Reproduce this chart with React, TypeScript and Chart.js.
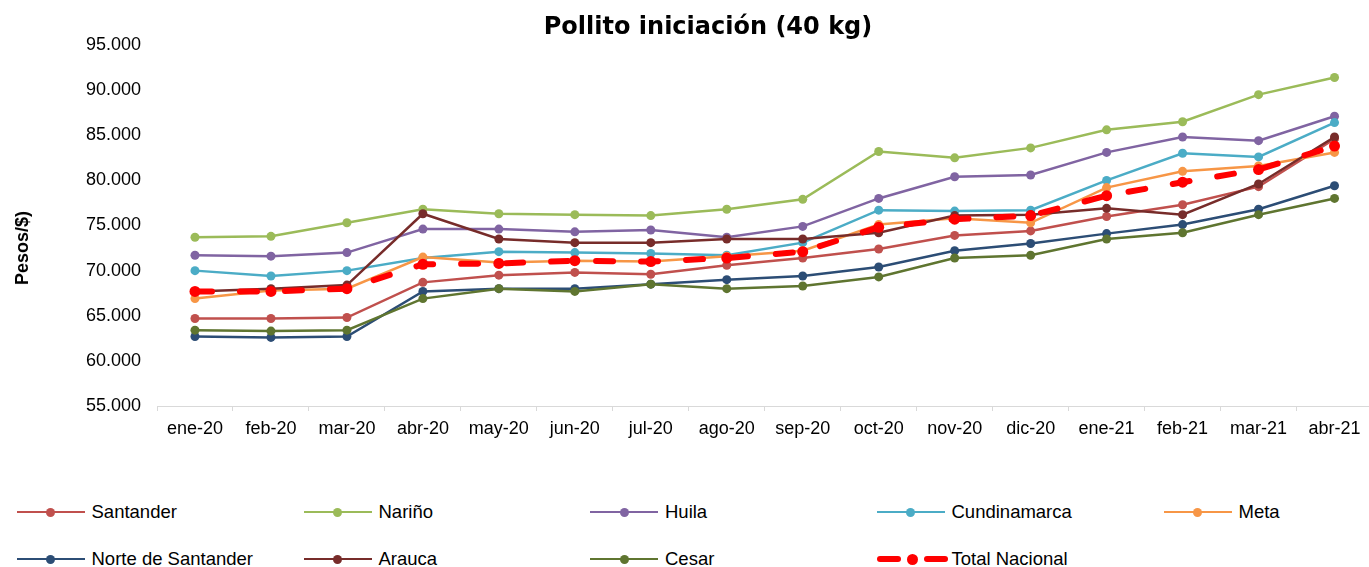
import React, { useEffect, useRef } from "react";
import { Chart, registerables } from "chart.js";

Chart.register(...registerables);

// ---------- data ----------
const categories = [
  "ene-20", "feb-20", "mar-20", "abr-20", "may-20", "jun-20", "jul-20", "ago-20",
  "sep-20", "oct-20", "nov-20", "dic-20", "ene-21", "feb-21", "mar-21", "abr-21",
];

const santander = [64700, 64700, 64800, 68700, 69500, 69800, 69600, 70600, 71400, 72400, 73900, 74400, 76000, 77300, 79300, 84600];
const narino = [73700, 73800, 75300, 76800, 76300, 76200, 76100, 76800, 77900, 83200, 82500, 83600, 85600, 86500, 89500, 91400];
const huila = [71700, 71600, 72000, 74600, 74600, 74300, 74500, 73700, 74900, 78000, 80400, 80600, 83100, 84800, 84400, 87100];
const cundinamarca = [70000, 69400, 70000, 71400, 72100, 72000, 71900, 71700, 73100, 76700, 76600, 76700, 80000, 83000, 82600, 86400];
const meta = [66900, 67800, 68000, 71500, 70900, 71100, 71000, 71600, 72200, 75100, 75800, 75300, 79200, 81000, 81600, 83100];
const norteDeSantander = [62700, 62600, 62700, 67700, 68000, 68000, 68500, 69000, 69400, 70400, 72200, 73000, 74100, 75100, 76800, 79400];
const arauca = [67700, 68000, 68400, 76300, 73500, 73100, 73100, 73500, 73500, 74200, 76100, 76200, 76900, 76200, 79600, 84800];
const cesar = [63400, 63300, 63400, 66900, 68000, 67700, 68500, 68000, 68300, 69300, 71400, 71700, 73500, 74200, 76200, 78000];
const totalNacional = [67700, 67700, 68000, 70700, 70800, 71100, 71000, 71400, 72100, 74800, 75700, 76100, 78300, 79800, 81200, 83800];

const seriesNames = [
  "Santander", "Nariño", "Huila", "Cundinamarca", "Meta",
  "Norte de Santander", "Arauca", "Cesar", "Total Nacional",
];
const seriesValues = [santander, narino, huila, cundinamarca, meta, norteDeSantander, arauca, cesar, totalNacional];

const yMin = 55000;
const yMax = 95000;
const yStep = 5000;

const chartTitle = "Pollito iniciación (40 kg)";
const yAxisTitle = "Pesos/$)";

// ---------- styles ----------
const seriesColors = [
  "#C0504D", "#9BBB59", "#8064A2", "#4BACC6", "#F79646",
  "#2C4D75", "#772C2A", "#5F7530", "#FF0000",
];
const FONT = "'Liberation Sans', Arial, sans-serif";

function fmtThousands(v: number): string {
  const s = Math.round(v).toString();
  return s.replace(/\B(?=(\d{3})+(?!\d))/g, ".");
}

function LegendItem({ name, color, dashed, left, top }: { name: string; color: string; dashed: boolean; left: number; top: number }) {
  return (
    <div style={{ position: "absolute", left, top: top - 12, height: 24, width: 280 }}>
      {dashed ? (
        <>
          <div style={{ position: "absolute", left: 0, top: 9, width: 24, height: 6, borderRadius: 3, background: color }} />
          <div style={{ position: "absolute", left: 30.5, top: 6.5, width: 11, height: 11, borderRadius: "50%", background: color }} />
          <div style={{ position: "absolute", left: 47, top: 9, width: 24, height: 6, borderRadius: 3, background: color }} />
        </>
      ) : (
        <>
          <div style={{ position: "absolute", left: 0, top: 10.75, width: 68, height: 2.5, background: color }} />
          <div style={{ position: "absolute", left: 29.5, top: 7.5, width: 9, height: 9, borderRadius: "50%", background: color }} />
        </>
      )}
      <div style={{ position: "absolute", left: 75, top: 0, lineHeight: "24px", fontSize: 18.5, fontFamily: FONT, color: "#000", whiteSpace: "nowrap" }}>
        {name}
      </div>
    </div>
  );
}

export default function App() {
  const canvasRef = useRef<HTMLCanvasElement | null>(null);

  useEffect(() => {
    const canvas = canvasRef.current;
    if (!canvas) return;
    const n = seriesNames.length;
    const datasets = seriesNames.map((name, i) => {
      const isTotal = i === n - 1;
      return {
        label: name,
        data: seriesValues[i],
        borderColor: seriesColors[i],
        backgroundColor: seriesColors[i],
        pointBackgroundColor: seriesColors[i],
        pointBorderColor: seriesColors[i],
        pointBorderWidth: 0,
        pointRadius: isTotal ? 5.5 : 4.5,
        borderWidth: isTotal ? 6 : 2.5,
        borderDash: isTotal ? [17, 28] : [],
        borderCapStyle: isTotal ? ("round" as const) : ("butt" as const),
        tension: 0,
        fill: false,
        order: isTotal ? 0 : n - i,
      };
    });

    const chart = new Chart(canvas, {
      type: "line",
      data: { labels: categories, datasets },
      options: {
        responsive: false,
        animation: false,
        devicePixelRatio: 1,
        layout: { padding: { top: 45, left: 0, right: 0, bottom: 24 } },
        plugins: {
          legend: { display: false },
          title: { display: false },
          tooltip: { enabled: false },
        },
        scales: {
          x: {
            offset: true,
            grid: {
              display: true,
              offset: true,
              drawOnChartArea: false,
              drawTicks: true,
              tickLength: 5,
              color: "#D9D9D9",
            },
            border: { display: true, color: "#D9D9D9", width: 1 },
            ticks: {
              padding: 7,
              color: "#000",
              font: { family: FONT, size: 18 },
              maxRotation: 0,
              autoSkip: false,
            },
            afterFit: (scale: any) => {
              scale.height = 40;
            },
          },
          y: {
            min: yMin,
            max: yMax,
            grid: { display: false },
            border: { display: false },
            ticks: {
              stepSize: yStep,
              padding: 8,
              color: "#000",
              font: { family: FONT, size: 18 },
              callback: (v: any) => fmtThousands(Number(v)),
            },
            afterFit: (scale: any) => {
              scale.width = 157;
            },
          },
        },
      },
    });
    return () => chart.destroy();
  }, []);

  const row1 = 512;
  const row2 = 559;
  const cols = [16.5, 303.5, 590, 876.5, 1163.5];
  const legendPos = [
    [cols[0], row1], [cols[1], row1], [cols[2], row1], [cols[3], row1], [cols[4], row1],
    [cols[0], row2], [cols[1], row2], [cols[2], row2], [cols[3], row2],
  ];

  return (
    <div style={{ position: "fixed", left: 0, top: 0, width: 1369, height: 567, overflow: "hidden", background: "#fff" }}>
      <canvas ref={canvasRef} width={1378} height={470} style={{ position: "absolute", left: 0, top: 0, width: 1378, height: 470, display: "block" }} />
      <div
        style={{
          position: "absolute", left: 708, top: 13.5, transform: "translateX(-50%)",
          fontFamily: "'DejaVu Sans', sans-serif", fontWeight: "bold", fontSize: 24, lineHeight: "24px",
          whiteSpace: "nowrap", color: "#000",
        }}
      >
        {chartTitle}
      </div>
      <div
        style={{
          position: "absolute", left: 22, top: 248, transform: "translate(-50%, -50%) rotate(-90deg)",
          fontFamily: FONT, fontWeight: "bold", fontSize: 18, lineHeight: "20px", whiteSpace: "nowrap", color: "#000",
        }}
      >
        {yAxisTitle}
      </div>
      {seriesNames.map((name, i) => (
        <LegendItem
          key={name}
          name={name}
          color={seriesColors[i]}
          dashed={i === seriesNames.length - 1}
          left={legendPos[i][0]}
          top={legendPos[i][1]}
        />
      ))}
    </div>
  );
}
